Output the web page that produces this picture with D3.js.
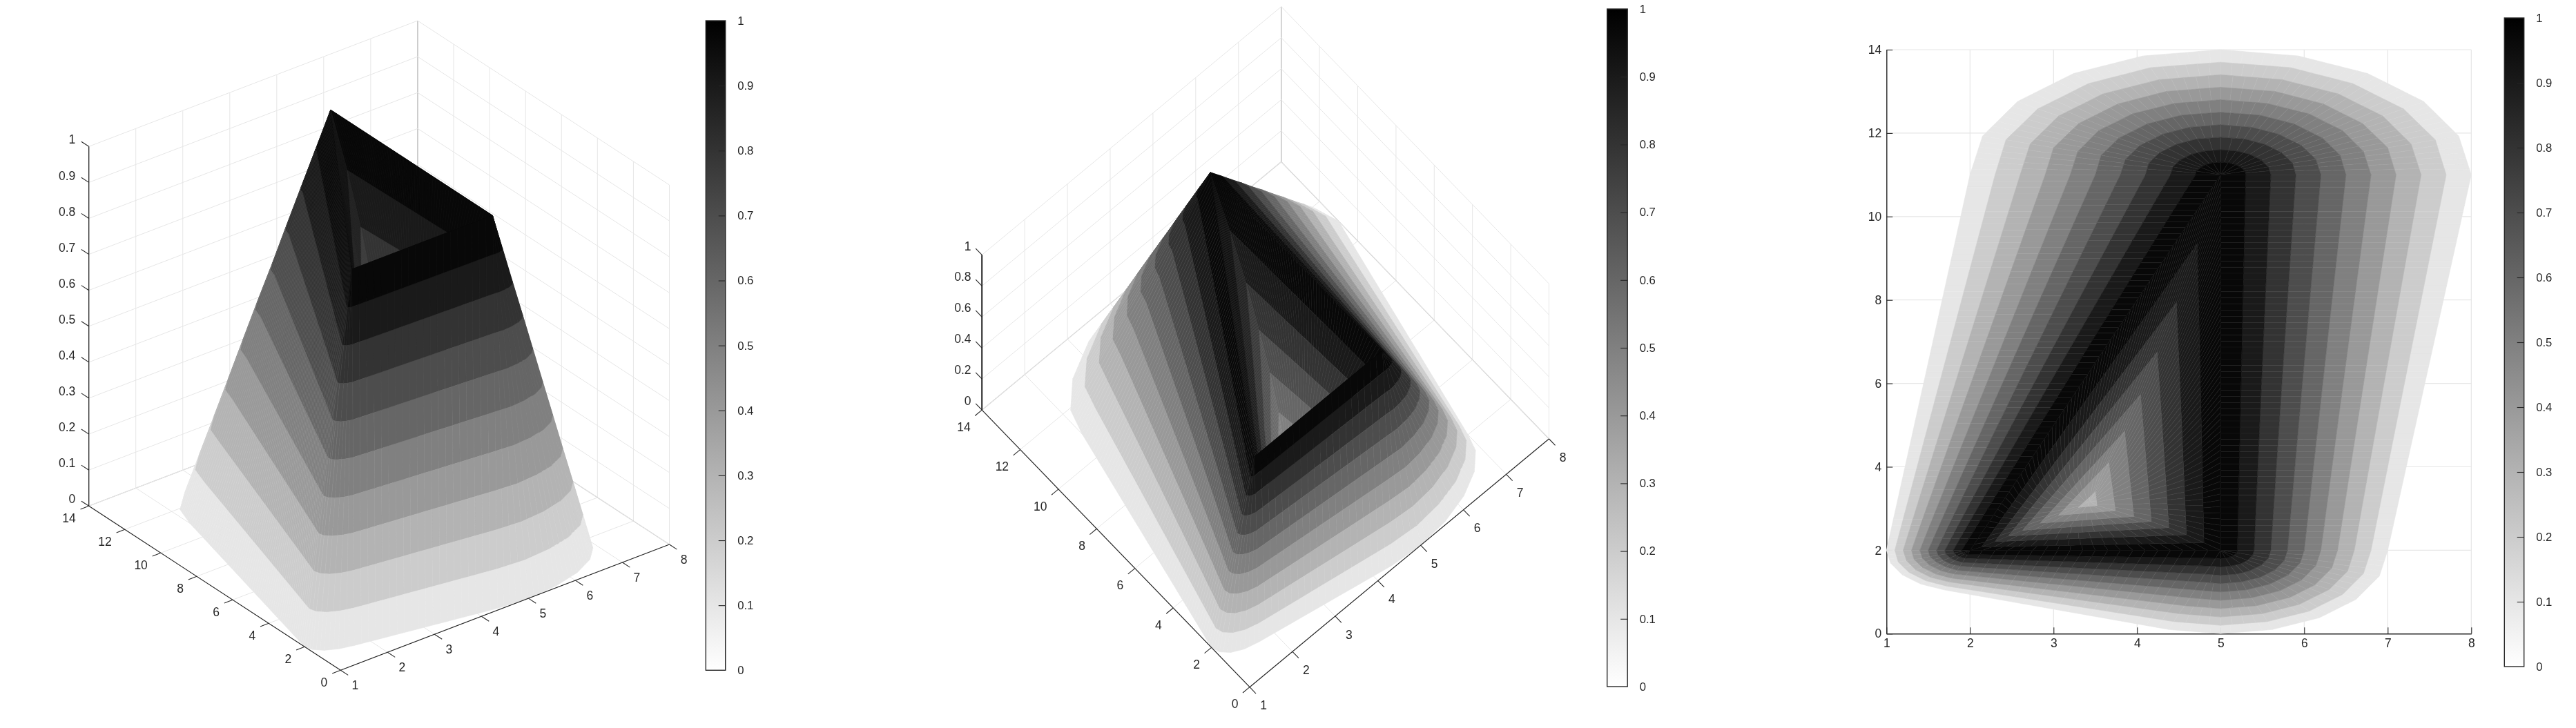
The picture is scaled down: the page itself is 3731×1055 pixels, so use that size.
<!DOCTYPE html>
<html>
<head>
<meta charset="utf-8">
<script src="https://cdn.jsdelivr.net/npm/d3@7"></script>
<style>
html,body{margin:0;padding:0;background:#fff;}
svg{will-change:transform;display:block;}
text{font-family:"Liberation Sans",Arial,sans-serif;fill:#262626;}
</style>
</head>
<body>
<svg id="chart" width="3731" height="1055"></svg>
<script>
// ---------- tick labels ----------
const xTicks = [1,2,3,4,5,6,7,8];
const yTicks = [0,2,4,6,8,10,12,14];
const zTicksFine = [0,0.1,0.2,0.3,0.4,0.5,0.6,0.7,0.8,0.9,1];
const zTicksCoarse = [0,0.2,0.4,0.6,0.8,1];
const barTicks = [0,0.1,0.2,0.3,0.4,0.5,0.6,0.7,0.8,0.9,1];

// ---------- outer contours of the surface ----------
const outerLevels = [0,0.1,0.2,0.3,0.4,0.5,0.6,0.7,0.8,0.9,1];
const outerX = [
 [8,7.85,7.43,6.76,5.93,5,4.07,3.24,2.57,2.15,2,1,1.05,1.19,1.41,1.69,4.38,5,5.62,6.18,6.62,6.9,7],
 [7.7,7.57,7.19,6.58,5.84,5,4.16,3.42,2.81,2.43,2.3,1.1,1.14,1.27,1.47,1.72,4.44,5,5.56,6.06,6.46,6.71,6.8],
 [7.4,7.28,6.94,6.41,5.74,5,4.26,3.59,3.06,2.72,2.6,1.2,1.24,1.35,1.53,1.75,4.5,5,5.5,5.94,6.3,6.52,6.6],
 [7.1,7,6.7,6.23,5.65,5,4.35,3.77,3.3,3,2.9,1.3,1.33,1.43,1.59,1.78,4.57,5,5.43,5.83,6.13,6.33,6.4],
 [6.8,6.71,6.46,6.06,5.56,5,4.44,3.94,3.54,3.29,3.2,1.4,1.43,1.51,1.65,1.81,4.63,5,5.37,5.71,5.97,6.14,6.2],
 [6.5,6.43,6.22,5.88,5.47,5,4.53,4.12,3.78,3.57,3.5,1.5,1.52,1.6,1.71,1.85,4.69,5,5.31,5.59,5.81,5.95,6],
 [6.2,6.14,5.97,5.7,5.37,5,4.63,4.3,4.03,3.86,3.8,1.6,1.62,1.68,1.76,1.88,4.75,5,5.25,5.47,5.65,5.76,5.8],
 [5.9,5.86,5.73,5.53,5.28,5,4.72,4.47,4.27,4.14,4.1,1.7,1.71,1.76,1.82,1.91,4.81,5,5.19,5.35,5.49,5.57,5.6],
 [5.6,5.57,5.49,5.35,5.19,5,4.81,4.65,4.51,4.43,4.4,1.8,1.81,1.84,1.88,1.94,4.88,5,5.12,5.24,5.32,5.38,5.4],
 [5.3,5.29,5.24,5.18,5.09,5,4.91,4.82,4.76,4.71,4.7,1.9,1.9,1.92,1.94,1.97,4.94,5,5.06,5.12,5.16,5.19,5.2],
 [5,5,5,5,5,5,5,5,5,5,5,2,2,2,2,2,5,5,5,5,5,5,5]
];
const outerY = [
 [11,11.93,12.76,13.43,13.85,14,13.85,13.43,12.76,11.93,11,2,1.69,1.41,1.19,1.05,0.1,0,0.1,0.38,0.82,1.38,2],
 [11,11.84,12.58,13.19,13.57,13.7,13.57,13.19,12.58,11.84,11,2,1.72,1.47,1.27,1.14,0.29,0.2,0.29,0.54,0.94,1.44,2],
 [11,11.74,12.41,12.94,13.28,13.4,13.28,12.94,12.41,11.74,11,2,1.75,1.53,1.35,1.24,0.48,0.4,0.48,0.7,1.06,1.5,2],
 [11,11.65,12.23,12.7,13,13.1,13,12.7,12.23,11.65,11,2,1.78,1.59,1.43,1.33,0.67,0.6,0.67,0.87,1.17,1.57,2],
 [11,11.56,12.06,12.46,12.71,12.8,12.71,12.46,12.06,11.56,11,2,1.81,1.65,1.51,1.43,0.86,0.8,0.86,1.03,1.29,1.63,2],
 [11,11.47,11.88,12.22,12.43,12.5,12.43,12.22,11.88,11.47,11,2,1.85,1.71,1.6,1.52,1.05,1,1.05,1.19,1.41,1.69,2],
 [11,11.37,11.7,11.97,12.14,12.2,12.14,11.97,11.7,11.37,11,2,1.88,1.76,1.68,1.62,1.24,1.2,1.24,1.35,1.53,1.75,2],
 [11,11.28,11.53,11.73,11.86,11.9,11.86,11.73,11.53,11.28,11,2,1.91,1.82,1.76,1.71,1.43,1.4,1.43,1.51,1.65,1.81,2],
 [11,11.19,11.35,11.49,11.57,11.6,11.57,11.49,11.35,11.19,11,2,1.94,1.88,1.84,1.81,1.62,1.6,1.62,1.68,1.76,1.88,2],
 [11,11.09,11.18,11.24,11.29,11.3,11.29,11.24,11.18,11.09,11,2,1.97,1.94,1.92,1.9,1.81,1.8,1.81,1.84,1.88,1.94,2],
 [11,11,11,11,11,11,11,11,11,11,11,2,2,2,2,2,2,2,2,2,2,2,2]
];
const outerBandValues = [0.1,0.2,0.3,0.4,0.5,0.6,0.7,0.8,0.9,0.97];

// ---------- inner (crater) contours: [lower-left, lower-right, top] ----------
const innerLevels = [1,0.9,0.8,0.7,0.6,0.5,0.4,0.3,0.27];
const innerX = [
 [2,5,5],
 [2.14,4.8,4.72],
 [2.3,4.59,4.47],
 [2.46,4.38,4.24],
 [2.63,4.17,4.04],
 [2.84,3.96,3.85],
 [3.06,3.74,3.66],
 [3.3,3.52,3.5],
 [3.43,3.43,3.43]
];
const innerY = [
 [2,2,11],
 [2.08,2.18,9.35],
 [2.21,2.37,7.94],
 [2.34,2.54,6.75],
 [2.48,2.69,5.73],
 [2.65,2.81,4.85],
 [2.84,2.95,4.1],
 [3.03,3.07,3.4],
 [3.17,3.17,3.17]
];
const innerBandValues = [0.97,0.9,0.8,0.7,0.6,0.5,0.4,0.3];

// ---------- scales shared by the panels ----------
const xNorm = d3.scaleLinear().domain([1,8]).range([0,1]);
const yNorm = d3.scaleLinear().domain([0,14]).range([0,1]);
const zNorm = d3.scaleLinear().domain([0,1]).range([0,1]);
const shade = d3.scaleLinear().domain([0,1]).range(["#ffffff","#000000"]);
const ink = "#262626";
const svg = d3.select("#chart");

// layout of the panels
const panels = [
 {O:[493.3,971.3], X:[476.2,-182.3], Y:[-364.6,-238], Z:[0,-521], zTicks:zTicksFine,
  xLab:[21,21.5], yLab:[-19,18], zLab:[-19.4,-10], zw:1.3,
  bar:{x0:1022.3,x1:1050.7,y0:30,y1:971.3}},
 {O:[1810,995.7], X:[433.5,-359.7], Y:[-387.8,-401.5], Z:[0,-224.8], zTicks:zTicksCoarse,
  xLab:[20,26.5], yLab:[-16.5,24.5], zLab:[-15.6,-13], zw:2,
  bar:{x0:2327.7,x1:2357.2,y0:13,y1:995}},
 {O:[2732.3,918.3], X:[847,0], Y:[0,-846.3], Z:[0,0], flat:true,
  bar:{x0:3627.3,x1:3655.7,y0:26,y1:966}}
];

function makeProjector(p){
  return (x,y,z)=>{
    const a=xNorm(x), b=yNorm(y), c=zNorm(z);
    return [p.O[0]+a*p.X[0]+b*p.Y[0]+c*p.Z[0], p.O[1]+a*p.X[1]+b*p.Y[1]+c*p.Z[1]];
  };
}

// build small surface patches from the contour rings
function ringPatches(xs0,ys0,z0,xs1,ys1,z1,value,out){
  const n=xs0.length;
  for(let k=0;k<n;k++){
    const m=(k+1)%n;
    const len=Math.max(Math.hypot(xs0[m]-xs0[k],ys0[m]-ys0[k]),Math.hypot(xs1[m]-xs1[k],ys1[m]-ys1[k]));
    const steps=Math.max(1,Math.ceil(len/0.15));
    for(let s=0;s<steps;s++){
      const u0=s/steps,u1=(s+1)/steps;
      const lerp=(a,b,u)=>a+(b-a)*u;
      out.push({value,pts:[
        [lerp(xs0[k],xs0[m],u0),lerp(ys0[k],ys0[m],u0),z0],
        [lerp(xs0[k],xs0[m],u1),lerp(ys0[k],ys0[m],u1),z0],
        [lerp(xs1[k],xs1[m],u1),lerp(ys1[k],ys1[m],u1),z1],
        [lerp(xs1[k],xs1[m],u0),lerp(ys1[k],ys1[m],u0),z1]
      ]});
    }
  }
}
const patches=[];
outerBandValues.forEach((v,j)=>ringPatches(outerX[j],outerY[j],outerLevels[j],outerX[j+1],outerY[j+1],outerLevels[j+1],v,patches));
innerBandValues.forEach((v,j)=>ringPatches(innerX[j],innerY[j],innerLevels[j],innerX[j+1],innerY[j+1],innerLevels[j+1],v,patches));

function line(g,a,b,color,w){
  g.append("line").attr("x1",a[0]).attr("y1",a[1]).attr("x2",b[0]).attr("y2",b[1])
   .attr("stroke",color).attr("stroke-width",w);
}
function unit(v){const l=Math.hypot(v[0],v[1]);return [v[0]/l,v[1]/l];}

panels.forEach(p=>{
  const g=svg.append("g");
  const P=makeProjector(p);
  const gridC="#e6e6e6", edgeC="#c6c6c6";

  if(p.flat){
    // flat top view: ordinary 2-D axes
    const xs=d3.scaleLinear().domain([1,8]).range([p.O[0],p.O[0]+p.X[0]]);
    const ys=d3.scaleLinear().domain([0,14]).range([p.O[1],p.O[1]+p.Y[1]]);
    xTicks.slice(1).forEach(t=>line(g,[xs(t),ys(0)],[xs(t),ys(14)],gridC,1.2));
    yTicks.slice(1).forEach(t=>line(g,[xs(1),ys(t)],[xs(8),ys(t)],gridC,1.2));
    const ax=g.append("g").attr("transform",`translate(0,${ys(0)})`)
      .call(d3.axisBottom(xs).tickValues(xTicks).tickSizeInner(-9).tickSizeOuter(0).tickPadding(10).tickFormat(d=>String(d)));
    const ay=g.append("g").attr("transform",`translate(${xs(1)},0)`)
      .call(d3.axisLeft(ys).tickValues(yTicks).tickSizeInner(-9).tickSizeOuter(0).tickPadding(7).tickFormat(d=>String(d)));
    [ax,ay].forEach(a=>{
      a.selectAll("path").attr("stroke",ink).attr("stroke-width",1.4);
      a.selectAll("line").attr("stroke",ink).attr("stroke-width",1.1);
      a.selectAll("text").attr("font-size",17.5).attr("font-family",'"Liberation Sans",Arial,sans-serif').attr("fill",ink);
    });
    ax.selectAll("text").attr("dy","0.55em");
  } else {
    // walls and floor
    yTicks.forEach(t=>{
      line(g,P(1,t,0),P(8,t,0),t===14?edgeC:gridC,t===14?1.2:1);
      line(g,P(8,t,0),P(8,t,1),t===14?edgeC:gridC,t===14?1.2:1);
    });
    xTicks.forEach(t=>{
      line(g,P(t,0,0),P(t,14,0),t===8?edgeC:gridC,t===8?1.2:1);
      line(g,P(t,14,0),P(t,14,1),t===8?edgeC:gridC,t===8?1.2:1);
    });
    p.zTicks.forEach(t=>{
      line(g,P(1,14,t),P(8,14,t),gridC,1);
      line(g,P(8,14,t),P(8,0,t),gridC,1);
    });
  }

  // surface: painted back to front, ordered on the ground plane
  const r1=[p.X[0],p.Y[0],p.Z[0]], r2=[-p.X[1],-p.Y[1],-p.Z[1]];
  const wx=r1[1]*r2[2]-r1[2]*r2[1], wy=r1[2]*r2[0]-r1[0]*r2[2];
  const ordered=patches.map(q=>{
    const cx=d3.mean(q.pts,d=>xNorm(d[0])), cy=d3.mean(q.pts,d=>yNorm(d[1]));
    return {q,key:wx*cx+wy*cy};
  }).sort((a,b)=>d3.ascending(a.key,b.key));
  const lineGen=d3.line();
  const marks=ordered.flatMap(d=>[{q:d.q,seam:false},{q:d.q,seam:true}]);
  g.append("g").selectAll("path").data(marks).join("path")
    .attr("d",d=>{
      const c=d.q.pts.map(c=>P(c[0],c[1],c[2]));
      return d.seam?lineGen([c[0],c[3]]):lineGen(c)+"Z";
    })
    .attr("fill",d=>d.seam?"none":shade(d.q.value))
    .attr("stroke",d=>d.seam?"#ffffff":shade(d.q.value))
    .attr("stroke-opacity",d=>d.seam?0.07:1)
    .attr("stroke-width",d=>d.seam?0.8:0.6);

  if(!p.flat){
    // axes in front of the surface
    const uX=unit(p.X), uY=unit(p.Y), L=13;
    line(g,P(1,0,0),P(8,0,0),ink,1.2);
    line(g,P(1,0,0),P(1,14,0),ink,1.2);
    line(g,P(1,14,0),P(1,14,1),ink,p.zw);
    const label=(pt,off,txt,anchor)=>g.append("text").attr("x",pt[0]+off[0]).attr("y",pt[1]+off[1])
      .attr("dy","0.35em").attr("text-anchor",anchor).attr("font-size",17.5).text(txt);
    xTicks.forEach(t=>{
      const a=P(t,0,0);
      line(g,a,[a[0]-uY[0]*L,a[1]-uY[1]*L],ink,1.1);
      label(a,p.xLab,String(t),"middle");
    });
    yTicks.forEach(t=>{
      const a=P(1,t,0);
      line(g,a,[a[0]-uX[0]*L,a[1]-uX[1]*L],ink,1.1);
      label(a,p.yLab,String(t),"end");
    });
    p.zTicks.forEach(t=>{
      const a=P(1,14,t);
      line(g,a,[a[0]+uY[0]*L,a[1]+uY[1]*L],ink,1.1);
      label(a,p.zLab,String(t),"end");
    });
  }

  // colour bar
  const b=p.bar;
  const id="grad"+Math.round(b.x0);
  const grad=svg.append("defs").append("linearGradient").attr("id",id)
    .attr("x1",0).attr("y1",1).attr("x2",0).attr("y2",0);
  barTicks.forEach(t=>grad.append("stop").attr("offset",t).attr("stop-color",shade(t)));
  g.append("rect").attr("x",b.x0).attr("y",b.y0).attr("width",b.x1-b.x0).attr("height",b.y1-b.y0)
    .attr("fill",`url(#${id})`).attr("stroke",ink).attr("stroke-width",1.4);
  const bs=d3.scaleLinear().domain([0,1]).range([b.y1,b.y0]);
  const ba=g.append("g").attr("transform",`translate(${b.x1},0)`)
    .call(d3.axisRight(bs).tickValues(barTicks).tickSizeInner(-10).tickSizeOuter(0).tickPadding(17.5).tickFormat(d=>String(d)));
  ba.select("path").remove();
  ba.selectAll("line").attr("stroke",ink).attr("stroke-width",1.1);
  ba.selectAll("text").attr("font-size",16.7).attr("font-family",'"Liberation Sans",Arial,sans-serif').attr("fill",ink);
  ba.selectAll(".tick").filter(d=>d===0||d===1).select("line").remove();
});
</script>
</body>
</html>
